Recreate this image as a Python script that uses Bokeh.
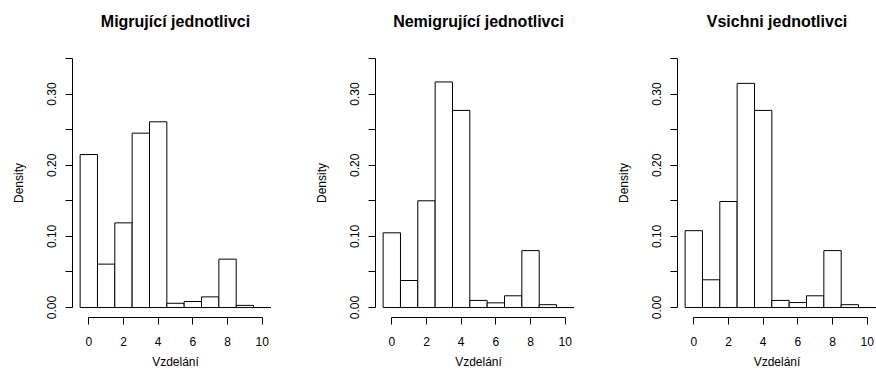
from bokeh.plotting import figure
from bokeh.layouts import row
from bokeh.models import FixedTicker, NumeralTickFormatter, Range1d, Title
from bokeh.embed import file_html
from bokeh.resources import INLINE

# Histogram bins (education levels), unit width centred on integers
bin_left = [-0.5, 0.5, 1.5, 2.5, 3.5, 4.5, 5.5, 6.5, 7.5, 8.5, 9.5]
bin_right = [0.5, 1.5, 2.5, 3.5, 4.5, 5.5, 6.5, 7.5, 8.5, 9.5, 10.5]

titles = ["Migrující jednotlivci", "Nemigrující jednotlivci", "Vsichni jednotlivci"]
migrujici = [0.215, 0.061, 0.119, 0.245, 0.261, 0.006, 0.0085, 0.015, 0.068, 0.003, 0.0]
nemigrujici = [0.105, 0.038, 0.150, 0.317, 0.277, 0.010, 0.0066, 0.0165, 0.080, 0.004, 0.0]
vsichni = [0.108, 0.039, 0.149, 0.315, 0.277, 0.010, 0.007, 0.0165, 0.080, 0.004, 0.0]

x_ticks = [0, 2, 4, 6, 8, 10]
y_ticks = [0.0, 0.1, 0.2, 0.3]
y_minor = [0.05, 0.15, 0.25, 0.35]
x_label = "Vzdelání"
y_label = "Density"

FONT = "Liberation Sans"


def panel(title, dens, width, left_b, right_b, x_end):
    p = figure(width=width, height=383, output_backend="svg", toolbar_location=None,
               x_range=Range1d(-0.94, x_end), y_range=Range1d(-0.014, 0.364),
               min_border_left=left_b, min_border_right=right_b,
               min_border_top=48, min_border_bottom=66)
    # spacer (closest to frame) then the real title above it
    p.add_layout(Title(text=" ", text_font=FONT, text_font_size="11px", standoff=0), "above")
    p.add_layout(Title(text=title, text_font=FONT, text_font_size="16px",
                       text_font_style="bold", align="center", text_color="black"), "above")
    p.outline_line_color = None
    p.grid.visible = False
    p.background_fill_color = "white"
    p.border_fill_color = "white"

    p.quad(left=bin_left, right=bin_right, bottom=0, top=dens,
           fill_color="white", line_color="black", line_width=1)

    xa = p.xaxis[0]
    xa.ticker = FixedTicker(ticks=x_ticks, minor_ticks=[])
    xa.bounds = (0, 10)
    ya = p.yaxis[0]
    ya.ticker = FixedTicker(ticks=y_ticks, minor_ticks=y_minor)
    ya.bounds = (0, 0.35)
    ya.formatter = NumeralTickFormatter(format="0.00")
    ya.major_label_orientation = "vertical"
    for ax in (xa, ya):
        ax.axis_line_color = "black"
        ax.major_tick_line_color = "black"
        ax.minor_tick_line_color = "black"
        ax.major_tick_in = 0
        ax.major_tick_out = 7
        ax.minor_tick_in = 0
        ax.minor_tick_out = 7
        ax.major_label_text_font = FONT
        ax.major_label_text_font_size = "12px"
        ax.major_label_text_color = "black"
        ax.axis_label_text_font = FONT
        ax.axis_label_text_font_size = "12px"
        ax.axis_label_text_font_style = "normal"
        ax.axis_label_text_color = "black"
    xa.axis_label = x_label
    ya.axis_label = y_label
    xa.major_label_standoff = 12
    ya.major_label_standoff = 9
    xa.axis_label_standoff = 6
    ya.axis_label_standoff = 19
    return p


p1 = panel(titles[0], migrujici, 303, 72, 25, 10.94)
p2 = panel(titles[1], nemigrujici, 302, 72, 24, 10.94)
p3 = panel(titles[2], vsichni, 271, 72, 0, 10.536)

layout = row(p1, p2, p3)
open("out.html", "w").write(file_html(layout, INLINE))
